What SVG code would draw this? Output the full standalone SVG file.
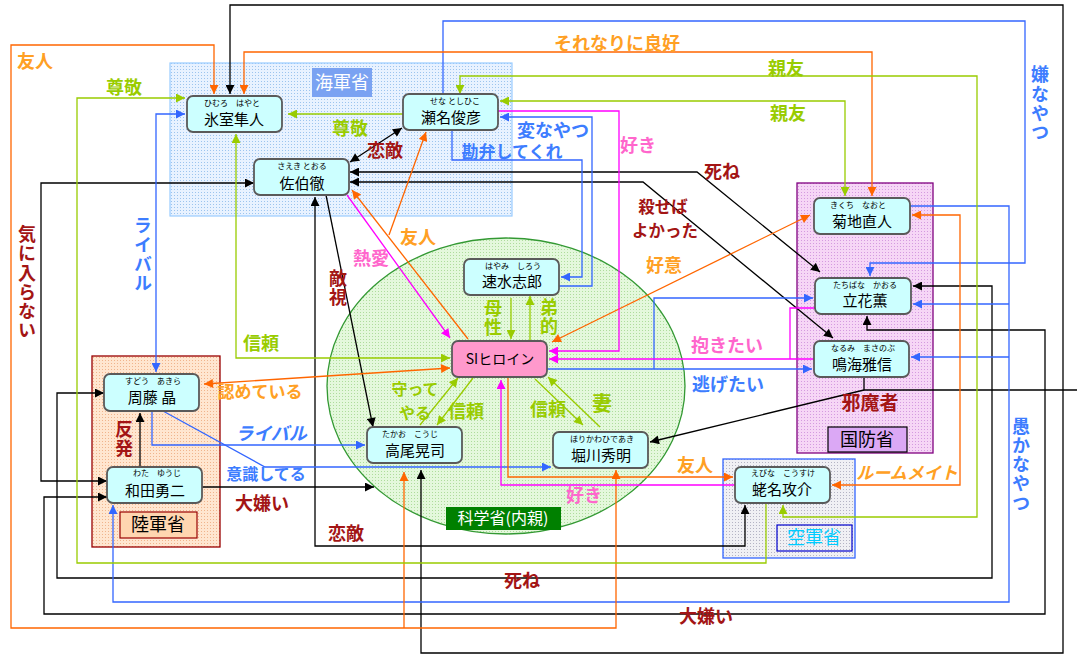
<svg xmlns="http://www.w3.org/2000/svg" width="1077" height="667" viewBox="0 0 1077 667">
<style>
text{font-family:"Noto Sans CJK JP","Noto Sans",sans-serif}
.c{fill:none;stroke-width:1.3}
.k{stroke:#000}.b{stroke:#3366ff}.o{stroke:#ff6600}.m{stroke:#ff00ff}.g{stroke:#99cc00}
.nd rect{fill:#ccffff;stroke:#5a5a5a;stroke-width:1.8}
.ru{font-size:8px;text-anchor:middle;fill:#000}
.nm{font-size:15px;text-anchor:middle;fill:#000}
.lb{font-weight:bold;font-size:18px;text-anchor:middle}
.vt{writing-mode:vertical-rl;letter-spacing:1.3px}
.or{fill:#ffa024}.gr{fill:#99cc00}.dr{fill:#a31515}.bl{fill:#3d7dff}.pk{fill:#ff66cc}
.gl{font-size:18px;text-anchor:middle}
</style>
<defs>
<pattern id="pNavy" width="3" height="3" patternUnits="userSpaceOnUse"><rect width="3" height="3" fill="#e8f2ff"/><rect width="1" height="1" fill="#9cc4ee"/></pattern>
<pattern id="pKoku" width="3" height="3" patternUnits="userSpaceOnUse"><rect width="3" height="3" fill="#f6d6f6"/><rect width="1" height="1" fill="#d49ae0"/></pattern>
<pattern id="pRiku" width="3" height="3" patternUnits="userSpaceOnUse"><rect width="3" height="3" fill="#ffe6d0"/><rect width="1" height="1" fill="#f0b48c"/></pattern>
<pattern id="pKu" width="3" height="3" patternUnits="userSpaceOnUse"><rect width="3" height="3" fill="#f0f0f4"/><rect width="1" height="1" fill="#b4b4c4"/></pattern>
<pattern id="pKag" width="3" height="3" patternUnits="userSpaceOnUse"><rect width="3" height="3" fill="#e4f8dc"/><rect width="1" height="1" fill="#aedc9c"/></pattern>
<marker id="ak" viewBox="0 0 10 10" refX="10" refY="5" markerWidth="10" markerHeight="9" markerUnits="userSpaceOnUse" orient="auto-start-reverse"><path d="M0,0L10,5L0,10z" fill="#000"/></marker>
<marker id="ab" viewBox="0 0 10 10" refX="10" refY="5" markerWidth="10" markerHeight="9" markerUnits="userSpaceOnUse" orient="auto-start-reverse"><path d="M0,0L10,5L0,10z" fill="#3366ff"/></marker>
<marker id="ao" viewBox="0 0 10 10" refX="10" refY="5" markerWidth="10" markerHeight="9" markerUnits="userSpaceOnUse" orient="auto-start-reverse"><path d="M0,0L10,5L0,10z" fill="#ff6600"/></marker>
<marker id="am" viewBox="0 0 10 10" refX="10" refY="5" markerWidth="10" markerHeight="9" markerUnits="userSpaceOnUse" orient="auto-start-reverse"><path d="M0,0L10,5L0,10z" fill="#ff00ff"/></marker>
<marker id="ag" viewBox="0 0 10 10" refX="10" refY="5" markerWidth="10" markerHeight="9" markerUnits="userSpaceOnUse" orient="auto-start-reverse"><path d="M0,0L10,5L0,10z" fill="#99cc00"/></marker>
</defs>
<rect width="1077" height="667" fill="#fff"/>

<g id="groups">
<rect x="170" y="63" width="342" height="153" fill="url(#pNavy)" stroke="#99ccff" stroke-width="1.2"/>
<rect x="797" y="183" width="136" height="270" fill="url(#pKoku)" stroke="#800080" stroke-width="1.3"/>
<rect x="92" y="356" width="128" height="191" fill="url(#pRiku)" stroke="#990000" stroke-width="1.3"/>
<rect x="723" y="459" width="132" height="99" fill="url(#pKu)" stroke="#3366ff" stroke-width="1.3"/>
<ellipse cx="506" cy="386" rx="179" ry="148" fill="url(#pKag)" stroke="#339933" stroke-width="1.3"/>
</g>

<g id="connectors">
<path class="c k" d="M421,470V653H1063V5H230V94" marker-start="url(#ak)" marker-end="url(#ak)"/>
<path class="c k" d="M104,393H57V578H992V286H913" marker-start="url(#ak)" marker-end="url(#ak)"/>
<path class="c k" d="M107,497H44V614H1045V330H867V316" marker-start="url(#ak)" marker-end="url(#ak)"/>
<path class="c k" d="M254,183H41V481H107" marker-start="url(#ak)" marker-end="url(#ak)"/>
<path class="c k" d="M202,487H374" marker-end="url(#ak)"/>
<path class="c k" d="M315,197V546H745V505" marker-start="url(#ak)" marker-end="url(#ak)"/>
<path class="c k" d="M326,195L373,427" marker-end="url(#ak)"/>
<path class="c k" d="M350,162L402,128" marker-start="url(#ak)" marker-end="url(#ak)"/>
<path class="c k" d="M350,172H697L820,272" marker-start="url(#ak)" marker-end="url(#ak)"/>
<path class="c k" d="M350,182H643L833,338" marker-start="url(#ak)" marker-end="url(#ak)"/>
<path class="c k" d="M864,377V390H1077"/>
<path class="c k" d="M864,390L650,442" marker-end="url(#ak)"/>
<path class="c k" d="M140,467V413" marker-end="url(#ak)"/>
<path class="c b" d="M443,94V21H1025V263H870V276" marker-end="url(#ab)"/>
<path class="c b" d="M910,206H1009V602H113V505" marker-end="url(#ab)"/>
<path class="c b" d="M1009,304H913" marker-end="url(#ab)"/>
<path class="c b" d="M1009,357H911" marker-end="url(#ab)"/>
<path class="c b" d="M185,114H156V372" marker-start="url(#ab)" marker-end="url(#ab)"/>
<path class="c b" d="M152,411V445H365" marker-end="url(#ab)"/>
<path class="c b" d="M163,411L265,467H551" marker-end="url(#ab)"/>
<path class="c b" d="M452,130V160H582V277H561" marker-end="url(#ab)"/>
<path class="c b" d="M559,286H592V117H500" marker-end="url(#ab)"/>
<path class="c b" d="M547,369H812" marker-end="url(#ab)"/>
<path class="c b" d="M654,369V298H813" marker-end="url(#ab)"/>
<path class="c o" d="M214,94V45H11V628H616V470" marker-start="url(#ao)" marker-end="url(#ao)"/>
<path class="c o" d="M404,628V472" marker-end="url(#ao)"/>
<path class="c o" d="M244,94V52H872V196" marker-start="url(#ao)" marker-end="url(#ao)"/>
<path class="c o" d="M468,339L352,190" marker-end="url(#ao)"/>
<path class="c o" d="M389,235L426,132" marker-end="url(#ao)"/>
<path class="c o" d="M810,215L552,342" marker-start="url(#ao)" marker-end="url(#ao)"/>
<path class="c o" d="M912,215H960V485H832" marker-start="url(#ao)" marker-end="url(#ao)"/>
<path class="c o" d="M508,378V477H733" marker-end="url(#ao)"/>
<path class="c o" d="M204,384L450,368" marker-start="url(#ao)" marker-end="url(#ao)"/>
<path class="c m" d="M347,195L450,338" marker-end="url(#am)"/>
<path class="c m" d="M498,111H619V351H549" marker-end="url(#am)"/>
<path class="c m" d="M815,308H790V359"/>
<path class="c m" d="M814,359H549" marker-end="url(#am)"/>
<path class="c m" d="M735,485H501V380" marker-end="url(#am)"/>
<path class="c g" d="M766,503V563H77V98H185" marker-end="url(#ag)"/>
<path class="c g" d="M403,114H288" marker-end="url(#ag)"/>
<path class="c g" d="M236,134V358H450" marker-start="url(#ag)" marker-end="url(#ag)"/>
<path class="c g" d="M460,94V76H977V517H783V505" marker-start="url(#ag)" marker-end="url(#ag)"/>
<path class="c g" d="M500,101H845V196" marker-start="url(#ag)" marker-end="url(#ag)"/>
<path class="c g" d="M511,298V339" marker-end="url(#ag)"/>
<path class="c g" d="M530,341V296" marker-end="url(#ag)"/>
<path class="c g" d="M420,425L458,378" marker-end="url(#ag)"/>
<path class="c g" d="M473,378L437,425" marker-end="url(#ag)"/>
<path class="c g" d="M535,379L583,425" marker-end="url(#ag)"/>
<path class="c g" d="M600,427L548,377" marker-end="url(#ag)"/>
</g>

<g id="group-labels">
<rect x="312" y="68" width="60" height="29" fill="#7aa2f2"/>
<text x="342" y="89" class="gl" fill="#fff">海軍省</text>
<rect x="828" y="427" width="79" height="25" fill="#dba8f5" stroke="#000" stroke-width="1.2"/>
<text x="867" y="446" class="gl" fill="#000">国防省</text>
<rect x="120" y="512" width="77" height="26" fill="#ffd6b0" stroke="#990000" stroke-width="1.2"/>
<text x="158" y="531" class="gl" fill="#000">陸軍省</text>
<rect x="777" y="525" width="75" height="26" fill="url(#pKu)" stroke="#0000cc" stroke-width="1.2"/>
<text x="814" y="544" class="gl" fill="#00ccff">空軍省</text>
<rect x="446" y="507" width="115" height="23" fill="#008000"/>
<text x="503" y="524" class="gl" style="font-size:16px" fill="#fff">科学省(内親)</text>
</g>

<g id="n-himuro" class="nd"><rect x="187" y="96" width="95" height="36" rx="6"/><text class="ru" x="232" y="106">ひむろ　はやと</text><text class="nm" x="234" y="125">氷室隼人</text></g>
<g id="n-sena" class="nd"><rect x="403" y="94" width="95" height="36" rx="6"/><text class="ru" x="455" y="104">せな としひこ</text><text class="nm" x="451" y="123">瀬名俊彦</text></g>
<g id="n-saeki" class="nd"><rect x="254" y="159" width="95" height="36" rx="6"/><text class="ru" x="302" y="169">さえき とおる</text><text class="nm" x="302" y="189">佐伯徹</text></g>
<g id="n-hayami" class="nd"><rect x="464" y="259" width="95" height="36" rx="6"/><text class="ru" x="513" y="269">はやみ　しろう</text><text class="nm" x="512" y="287">速水志郎</text></g>
<g id="n-heroine" class="nd"><rect x="452" y="341" width="95" height="36" rx="6" style="fill:#ff99cc"/><text class="nm" x="500" y="364" style="font-size:14px">SIヒロイン</text></g>
<g id="n-takao" class="nd"><rect x="367" y="427" width="95" height="36" rx="6"/><text class="ru" x="410" y="437">たかお　こうじ</text><text class="nm" x="415" y="456">高尾晃司</text></g>
<g id="n-horikawa" class="nd"><rect x="553" y="432" width="95" height="36" rx="6"/><text class="ru" x="602" y="442">ほりかわひであき</text><text class="nm" x="601" y="461">堀川秀明</text></g>
<g id="n-sudo" class="nd"><rect x="104" y="374" width="95" height="37" rx="6"/><text class="ru" x="153" y="384">すどう　あきら</text><text class="nm" x="152" y="403">周藤 晶</text></g>
<g id="n-wada" class="nd"><rect x="107" y="467" width="95" height="36" rx="6"/><text class="ru" x="157" y="476">わた　ゆうじ</text><text class="nm" x="155" y="496">和田勇二</text></g>
<g id="n-kikuchi" class="nd"><rect x="814" y="198" width="96" height="36" rx="6"/><text class="ru" x="858" y="208">きくち　なおと</text><text class="nm" x="862" y="227">菊地直人</text></g>
<g id="n-tachibana" class="nd"><rect x="815" y="278" width="96" height="36" rx="6"/><text class="ru" x="865" y="288">たちばな　かおる</text><text class="nm" x="865" y="306">立花薫</text></g>
<g id="n-narumi" class="nd"><rect x="814" y="341" width="95" height="36" rx="6"/><text class="ru" x="863" y="351">なるみ　まさのぶ</text><text class="nm" x="862" y="370">鳴海雅信</text></g>
<g id="n-ebina" class="nd"><rect x="735" y="467" width="95" height="36" rx="6"/><text class="ru" x="783" y="476">えびな　こうすけ</text><text class="nm" x="782" y="495">蛯名攻介</text></g>

<g id="labels">
<text class="lb or" x="35" y="68">友人</text>
<text class="lb gr" x="124" y="94">尊敬</text>
<text class="lb gr" x="350" y="135">尊敬</text>
<text class="lb dr" x="385" y="157">恋敵</text>
<text class="lb bl" x="512" y="158" style="font-size:17px">勘弁してくれ</text>
<text class="lb bl" x="553" y="137">変なやつ</text>
<text class="lb pk" x="638" y="152">好き</text>
<text class="lb or" x="617" y="50">それなりに良好</text>
<text class="lb gr" x="786" y="75">親友</text>
<text class="lb gr" x="788" y="120">親友</text>
<text class="lb bl vt" x="1040" y="104">嫌なやつ</text>
<text class="lb dr" x="722" y="178">死ね</text>
<text class="lb dr" x="663" y="213" style="font-size:16.5px">殺せば</text>
<text class="lb dr" x="665" y="237" style="font-size:16.5px">よかった</text>
<text class="lb or" x="664" y="272">好意</text>
<text class="lb pk" x="371" y="265">熱愛</text>
<text class="lb or" x="418" y="244">友人</text>
<text class="lb dr vt" x="338" y="288">敵視</text>
<text class="lb dr vt" x="27" y="283">気に入らない</text>
<text class="lb bl vt" x="143" y="255">ライバル</text>
<text class="lb gr" x="261" y="350">信頼</text>
<text class="lb or" x="260" y="398" style="font-size:17px">認めている</text>
<text class="lb dr vt" x="124" y="439">反発</text>
<text class="lb bl" x="271" y="440" font-style="italic">ライバル</text>
<text class="lb bl" x="266" y="480" style="font-size:16px">意識してる</text>
<text class="lb dr" x="262" y="510">大嫌い</text>
<text class="lb dr" x="346" y="540">恋敵</text>
<text class="lb dr" x="522" y="587">死ね</text>
<text class="lb dr" x="706" y="623">大嫌い</text>
<text class="lb pk" x="584" y="502">好き</text>
<text class="lb or" x="695" y="472">友人</text>
<text class="lb or" x="907" y="479" style="font-size:17px" font-style="italic">ルームメイト</text>
<text class="lb pk" x="727" y="352">抱きたい</text>
<text class="lb bl" x="728" y="391">逃げたい</text>
<text class="lb dr" x="870" y="410" style="font-size:19px">邪魔者</text>
<text class="lb bl vt" x="1021" y="465">愚かなやつ</text>
<text class="lb gr vt" x="493" y="318">母性</text>
<text class="lb gr vt" x="549" y="317">弟的</text>
<text class="lb gr" x="415" y="395" style="font-size:16px">守って</text>
<text class="lb gr" x="415" y="419" style="font-size:16px">やる</text>
<text class="lb gr" x="466" y="418">信頼</text>
<text class="lb gr" x="548" y="416">信頼</text>
<text class="lb gr" x="602" y="411" style="font-size:20px">妻</text>
</g>
</svg>
